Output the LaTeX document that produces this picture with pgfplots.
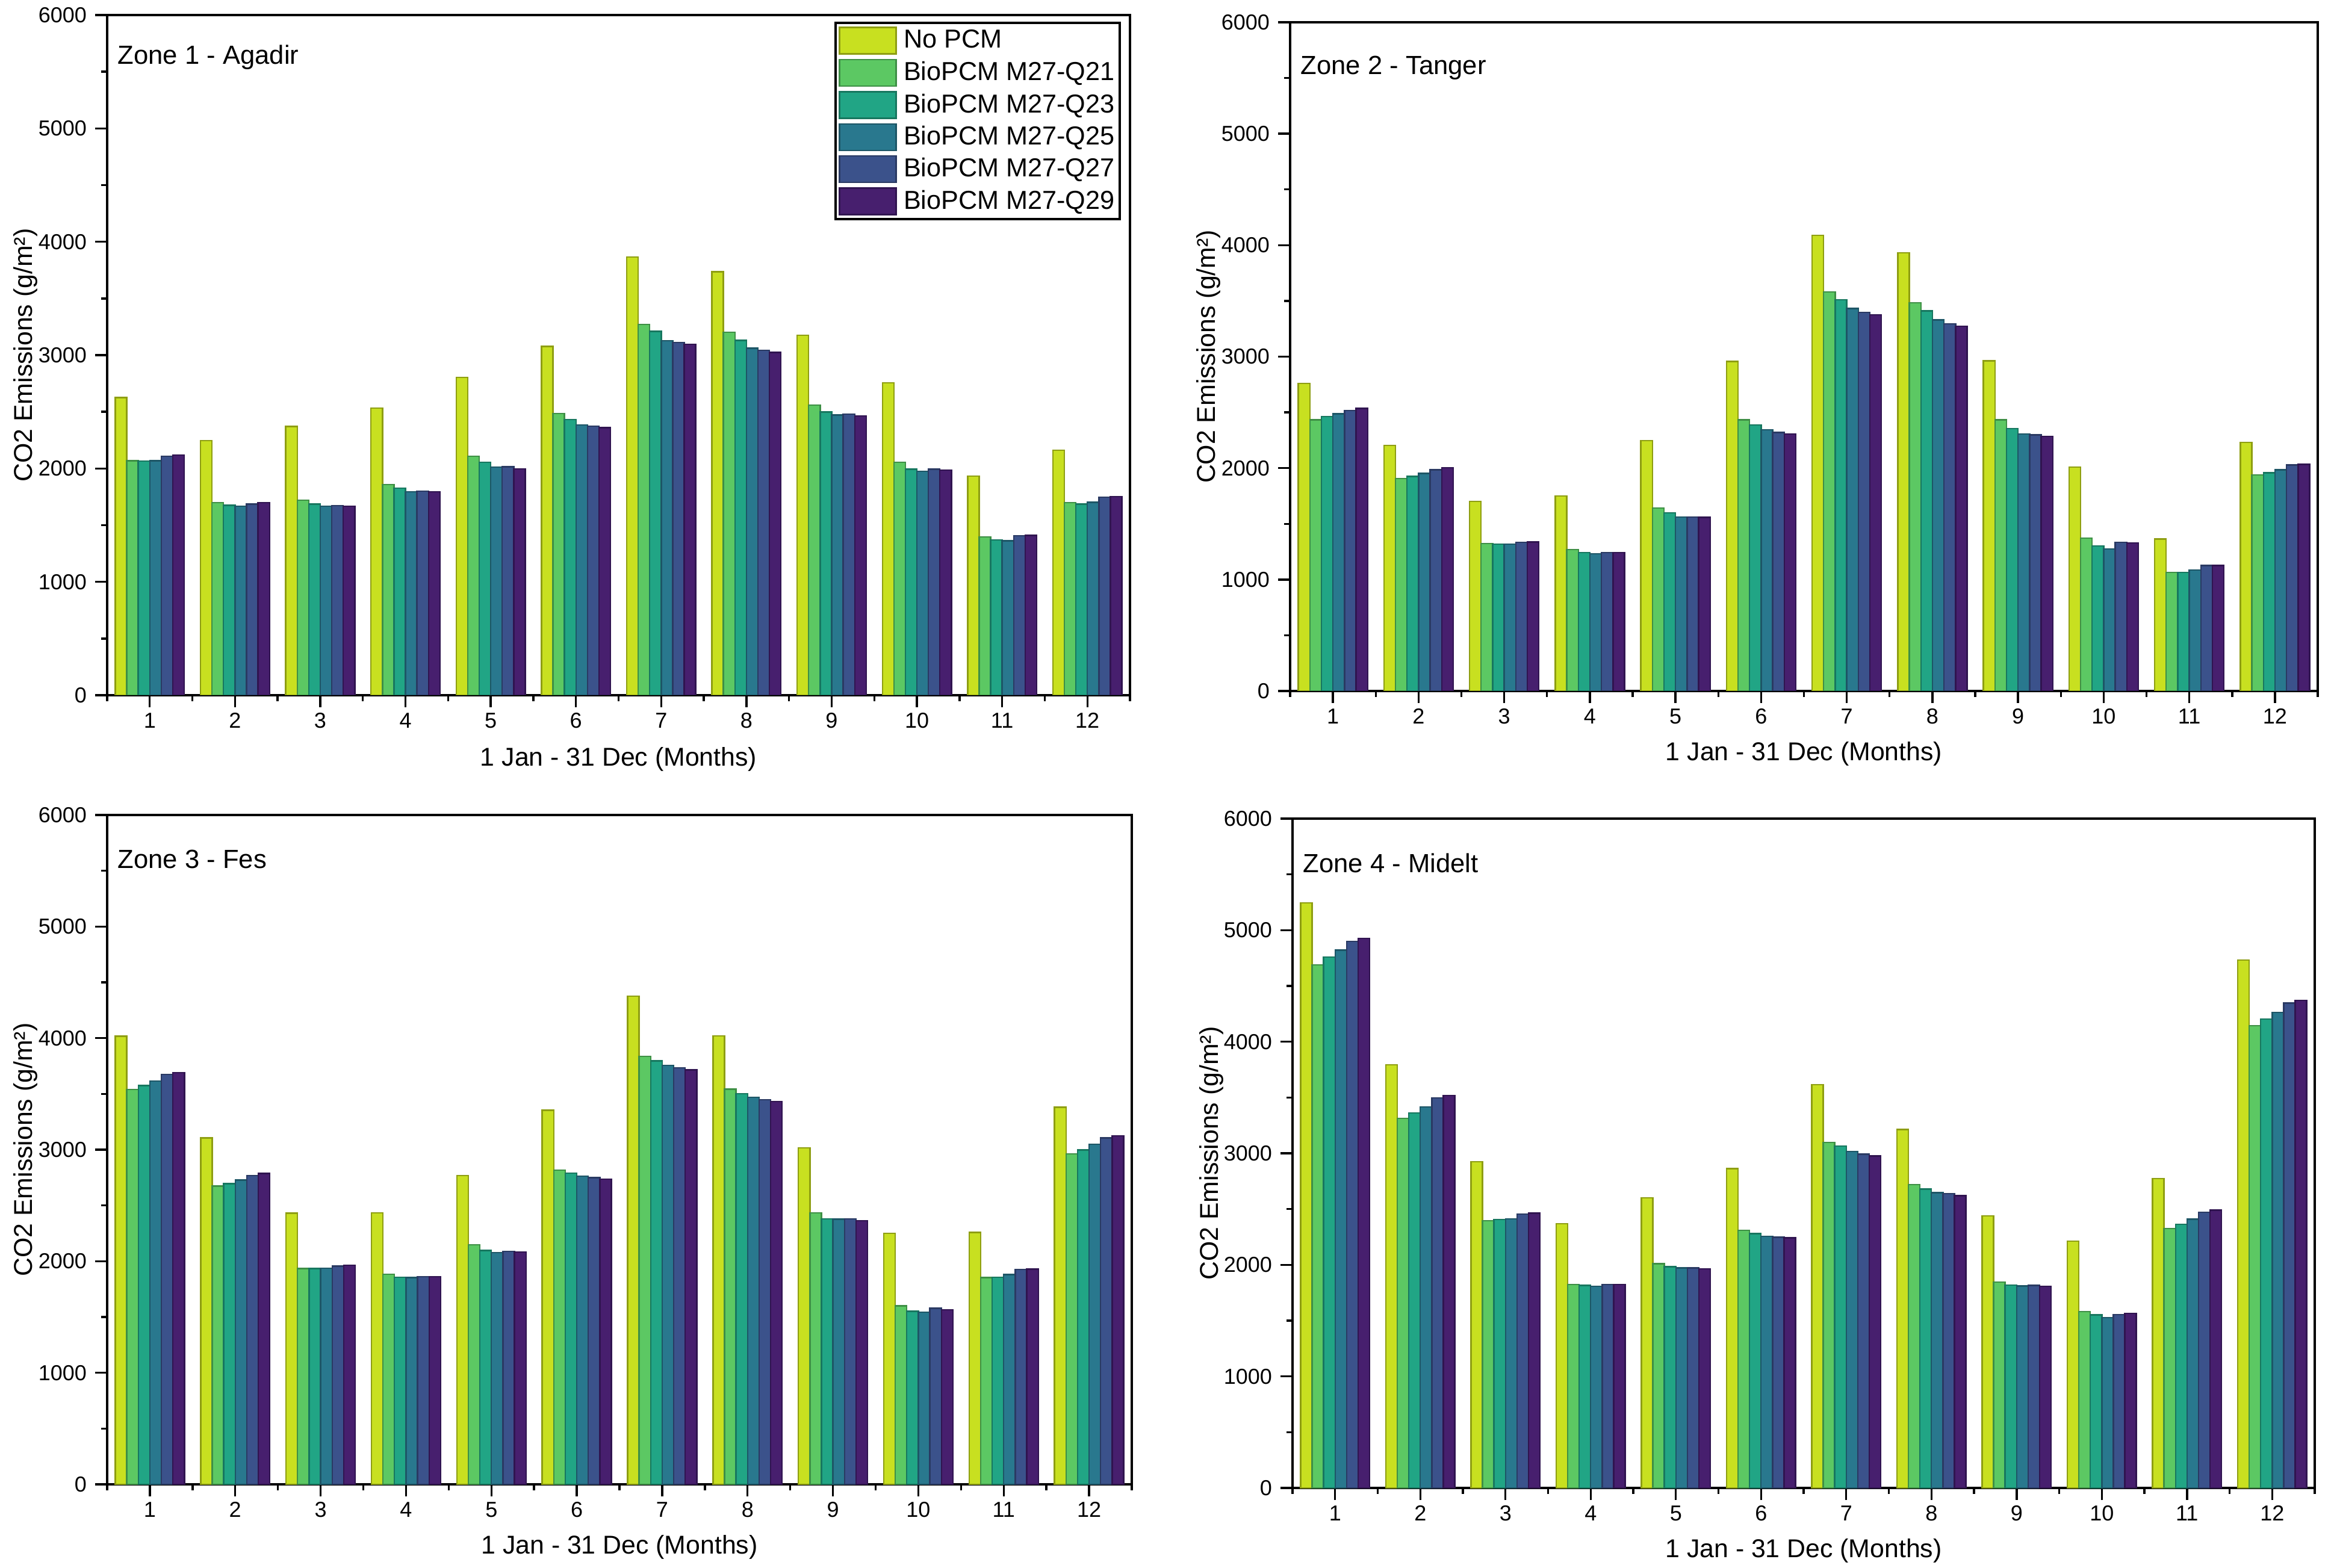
\documentclass[border=0pt]{standalone}
\usepackage{fontspec}
\setmainfont{Liberation Sans}
\usepackage{pgfplots}
\usepackage{pgfplotstable}
\pgfplotsset{compat=1.18}

% bar colours (fill / darker edge)
\definecolor{c1}{HTML}{C8E020}\definecolor{c1d}{HTML}{8E9E12}
\definecolor{c2}{HTML}{5CC863}\definecolor{c2d}{HTML}{3E8F45}
\definecolor{c3}{HTML}{21A585}\definecolor{c3d}{HTML}{17775F}
\definecolor{c4}{HTML}{29788E}\definecolor{c4d}{HTML}{1D5666}
\definecolor{c5}{HTML}{3B528B}\definecolor{c5d}{HTML}{2A3A63}
\definecolor{c6}{HTML}{471F6E}\definecolor{c6d}{HTML}{301450}

% Zone 1 - Agadir
\pgfplotstableread{
m np q21 q23 q25 q27 q29
1 2626 2069 2065 2069 2109 2118
2 2246 1698 1676 1667 1685 1698
3 2370 1720 1685 1667 1671 1667
4 2534 1857 1826 1795 1800 1795
5 2803 2109 2056 2012 2016 1998
6 3077 2485 2432 2383 2374 2361
7 3864 3272 3210 3126 3113 3095
8 3736 3201 3130 3060 3042 3024
9 3175 2560 2498 2472 2480 2463
10 2755 2056 1994 1976 1994 1985
11 1932 1397 1371 1362 1406 1410
12 2162 1698 1685 1702 1746 1751
}\zoneA

% Zone 2 - Tanger
\pgfplotstableread{
m np q21 q23 q25 q27 q29
1 2760 2432 2464 2486 2518 2536
2 2203 1907 1925 1952 1984 2002
3 1701 1324 1319 1319 1333 1337
4 1750 1270 1243 1230 1243 1243
5 2248 1642 1598 1562 1562 1557
6 2957 2432 2387 2343 2320 2307
7 4088 3581 3509 3433 3397 3375
8 3931 3482 3411 3330 3294 3272
9 2962 2432 2356 2307 2298 2284
10 2010 1373 1301 1275 1333 1328
11 1364 1064 1064 1086 1126 1126
12 2230 1939 1957 1984 2028 2033
}\zoneB

% Zone 3 - Fes
\pgfplotstableread{
m np q21 q23 q25 q27 q29
1 4017 3539 3575 3615 3674 3692
2 3106 2673 2696 2727 2768 2786
3 2430 1934 1934 1938 1956 1965
4 2434 1884 1857 1853 1862 1862
5 2768 2146 2096 2078 2087 2083
6 3354 2818 2790 2763 2750 2736
7 4377 3836 3796 3755 3733 3715
8 4021 3543 3503 3471 3449 3431
9 3016 2434 2380 2376 2380 2362
10 2249 1600 1551 1542 1578 1564
11 2259 1853 1857 1880 1925 1929
12 3381 2962 2998 3047 3106 3124
}\zoneC

% Zone 4 - Midelt
\pgfplotstableread{
m np q21 q23 q25 q27 q29
1 5245 4688 4759 4822 4899 4926
2 3793 3312 3362 3416 3497 3519
3 2926 2395 2405 2413 2454 2463
4 2369 1825 1816 1807 1825 1825
5 2602 2009 1982 1973 1973 1964
6 2863 2310 2279 2256 2247 2243
7 3614 3097 3065 3016 2993 2975
8 3213 2719 2679 2647 2638 2620
9 2440 1847 1820 1811 1816 1807
10 2211 1582 1551 1528 1555 1564
11 2773 2324 2364 2409 2472 2490
12 4733 4144 4202 4261 4346 4369
}\zoneD

\pgfplotsset{
    panel/.style={
        scale only axis,
        anchor=south west,
        ybar=0pt,
        bar width=0.135,
        xmin=0.5, xmax=12.5,
        ymin=0, ymax=6000,
        xtick={1,...,12},
        minor xtick={0.5,1.5,...,12.5},
        ytick={0,1000,...,6000},
        minor ytick={500,1500,...,5500},
        tick pos=left,
        tick align=outside,
        major tick length=5pt,
        minor tick length=2.5pt,
        axis line style={line width=0.85pt},
        every tick/.style={black, line width=0.85pt},
        tick label style={font=\fontsize{9}{10.5}\selectfont},
        xticklabel style={yshift=1.1pt},
        /pgf/number format/1000 sep={},
        /pgf/number format/assume math mode=true,
        label style={font=\fontsize{10.7}{12.8}\selectfont},
        xlabel={1 Jan - 31 Dec (Months)},
        ylabel={CO2 Emissions (g/m²)},
        xlabel style={at={(axis description cs:0.5,-0.094)}, anchor=center},
        ylabel style={at={(axis description cs:-0.0795,0.5)}, anchor=center},
    },
    barimg/.style={legend image code/.code={\draw[##1] (0pt,-5.5pt) rectangle (23.5pt,5.5pt);}},
    b1/.style={fill=c1, draw=c1d, line width=0.6pt, barimg},
    b2/.style={fill=c2, draw=c2d, line width=0.6pt, barimg},
    b3/.style={fill=c3, draw=c3d, line width=0.6pt, barimg},
    b4/.style={fill=c4, draw=c4d, line width=0.6pt, barimg},
    b5/.style={fill=c5, draw=c5d, line width=0.6pt, barimg},
    b6/.style={fill=c6, draw=c6d, line width=0.6pt, barimg},
}

\newcommand{\zonelabel}[2]{%
    \node[anchor=base west, inner sep=0pt, xshift=4.25pt, yshift=-#2,
          font=\fontsize{10.9}{13}\selectfont] at (rel axis cs:0,1) {#1};}

\begin{document}
\begin{tikzpicture}
\path[use as bounding box] (0,0) rectangle (968pt,651pt);

% Zone 1
\begin{axis}[panel, at={(44.5pt,362.25pt)}, width=424.75pt, height=282.5pt,
    legend style={draw=black, line width=1pt, at={(axis description cs:1,1)},
        anchor=north east, xshift=-3.75pt, yshift=-2.75pt,
        inner xsep=1.2pt, inner ysep=1.6pt, row sep=1.75pt, column sep=2pt,
        nodes={inner sep=0.9pt},
        font=\fontsize{10.8}{12.8}\selectfont},
    legend cell align=left]
\addplot[b1] table[x=m, y=np]  \zoneA;
\addplot[b2] table[x=m, y=q21] \zoneA;
\addplot[b3] table[x=m, y=q23] \zoneA;
\addplot[b4] table[x=m, y=q25] \zoneA;
\addplot[b5] table[x=m, y=q27] \zoneA;
\addplot[b6] table[x=m, y=q29] \zoneA;
\zonelabel{Zone 1 - Agadir}{20.5pt}
\legend{No PCM,BioPCM M27-Q21,BioPCM M27-Q23,BioPCM M27-Q25,BioPCM M27-Q27,BioPCM M27-Q29}
\end{axis}

% Zone 2
\begin{axis}[panel, at={(535.75pt,364pt)}, width=426.75pt, height=277.75pt]
\addplot[b1] table[x=m, y=np]  \zoneB;
\addplot[b2] table[x=m, y=q21] \zoneB;
\addplot[b3] table[x=m, y=q23] \zoneB;
\addplot[b4] table[x=m, y=q25] \zoneB;
\addplot[b5] table[x=m, y=q27] \zoneB;
\addplot[b6] table[x=m, y=q29] \zoneB;
\zonelabel{Zone 2 - Tanger}{21.5pt}
\end{axis}

% Zone 3
\begin{axis}[panel, at={(44.5pt,34.5pt)}, width=425.5pt, height=278pt]
\addplot[b1] table[x=m, y=np]  \zoneC;
\addplot[b2] table[x=m, y=q21] \zoneC;
\addplot[b3] table[x=m, y=q23] \zoneC;
\addplot[b4] table[x=m, y=q25] \zoneC;
\addplot[b5] table[x=m, y=q27] \zoneC;
\addplot[b6] table[x=m, y=q29] \zoneC;
\zonelabel{Zone 3 - Fes}{22pt}
\end{axis}

% Zone 4
\begin{axis}[panel, at={(536.75pt,33pt)}, width=424.5pt, height=278pt]
\addplot[b1] table[x=m, y=np]  \zoneD;
\addplot[b2] table[x=m, y=q21] \zoneD;
\addplot[b3] table[x=m, y=q23] \zoneD;
\addplot[b4] table[x=m, y=q25] \zoneD;
\addplot[b5] table[x=m, y=q27] \zoneD;
\addplot[b6] table[x=m, y=q29] \zoneD;
\zonelabel{Zone 4 - Midelt}{22.5pt}
\end{axis}
\end{tikzpicture}
\end{document}
